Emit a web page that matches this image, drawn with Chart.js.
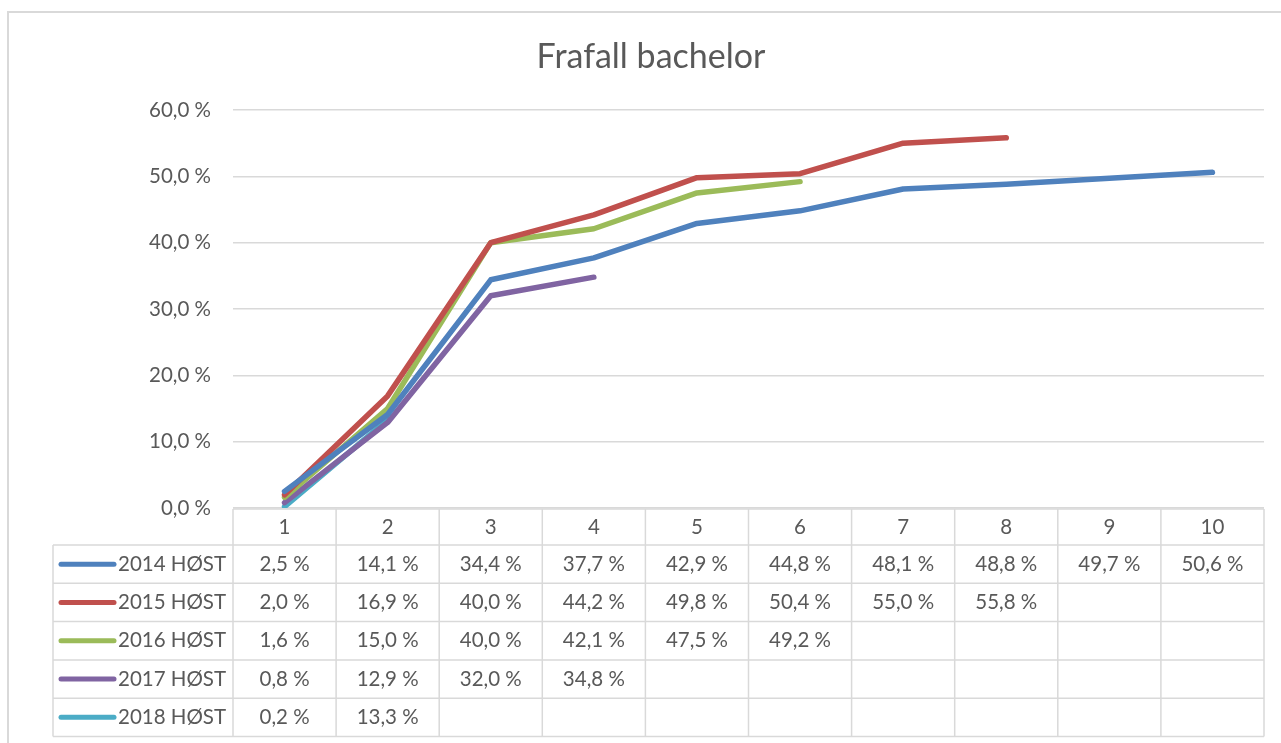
<!DOCTYPE html>
<html>
<head>
<meta charset="utf-8">
<script src="https://cdn.jsdelivr.net/npm/chart.js@4"></script>
<style>
    html, body { margin: 0; padding: 0; background: #fff; }
    #wrap { position: relative; width: 1281px; height: 743px; overflow: hidden; }
    #frame {
        position: absolute; left: 7px; top: 11px; width: 1400px; height: 800px;
        border-left: 2px solid #d9d9d9; border-top: 2px solid #d9d9d9;
    }
    canvas { position: absolute; left: 0; top: 0; }
</style>
</head>
<body>
<div id="wrap">
    <div id="frame"></div>
    <canvas id="chart" width="1281" height="743"></canvas>
</div>
<script>
// Frafall bachelor - data lest av figuren

const semesters = ['1', '2', '3', '4', '5', '6', '7', '8', '9', '10'];
const yTicks = [0, 10, 20, 30, 40, 50, 60];

const cohortNames = ['2014 HØST', '2015 HØST', '2016 HØST', '2017 HØST', '2018 HØST'];
const cohort2014 = [2.5, 14.1, 34.4, 37.7, 42.9, 44.8, 48.1, 48.8, 49.7, 50.6];
const cohort2015 = [2.0, 16.9, 40.0, 44.2, 49.8, 50.4, 55.0, 55.8];
const cohort2016 = [1.6, 15.0, 40.0, 42.1, 47.5, 49.2];
const cohort2017 = [0.8, 12.9, 32.0, 34.8];
const cohort2018 = [0.2, 13.3];
const cohortColors = ['#4f81bd', '#c0504d', '#9bbb59', '#8064a2', '#4bacc6'];

const FONT = 'Lato, "Open Sans", sans-serif';
const TEXT = '#595959';
const GRID = '#d9d9d9';

function pct(v) {
    return v.toFixed(1).replace('.', ',') + ' %';
}

/**
 * Tittel og datatabell under aksen
 */
const tablePlugin = {
    id: 'tablePlugin',
    afterDraw(chart) {
        const ctx = chart.ctx;
        const xs = chart.scales.x;
        const area = chart.chartArea;
        const colW = xs.getPixelForValue(1) - xs.getPixelForValue(0);
        const firstLeft = xs.getPixelForValue(0) - colW / 2;
        const lastRight = xs.getPixelForValue(semesters.length - 1) + colW / 2;
        const headTop = area.bottom + 1;
        const headH = 36;
        const rowH = 38.3;
        const tableLeft = 53;
        const rowsTop = headTop + headH;
        const tableBottom = rowsTop + rowH * cohortNames.length;

        ctx.save();

        // tittel
        ctx.fillStyle = TEXT;
        ctx.font = '34px ' + FONT;
        ctx.textAlign = 'center';
        ctx.textBaseline = 'middle';
        ctx.fillText('Frafall bachelor', 651, 57);

        // rutenett
        ctx.strokeStyle = GRID;
        ctx.lineWidth = 1.5;
        ctx.beginPath();
        ctx.moveTo(firstLeft, headTop);
        ctx.lineTo(lastRight, headTop);
        for (let r = 0; r <= cohortNames.length; r++) {
            const y = rowsTop + r * rowH;
            ctx.moveTo(tableLeft, y);
            ctx.lineTo(lastRight, y);
        }
        ctx.moveTo(tableLeft, rowsTop);
        ctx.lineTo(tableLeft, tableBottom);
        for (let c = 0; c <= semesters.length; c++) {
            const x = firstLeft + c * colW;
            ctx.moveTo(x, headTop);
            ctx.lineTo(x, tableBottom);
        }
        ctx.stroke();

        // kolonneoverskrifter
        ctx.fillStyle = TEXT;
        ctx.font = '20.5px ' + FONT;
        ctx.textAlign = 'center';
        semesters.forEach((s, i) => {
            ctx.fillText(s, xs.getPixelForValue(i), headTop + headH / 2);
        });

        // rader
        chart.data.datasets.forEach((ds, r) => {
            const cy = rowsTop + r * rowH + rowH / 2;
            ctx.strokeStyle = ds.borderColor;
            ctx.lineWidth = 5;
            ctx.lineCap = 'round';
            ctx.beginPath();
            ctx.moveTo(61, cy);
            ctx.lineTo(114, cy);
            ctx.stroke();

            ctx.fillStyle = TEXT;
            ctx.textAlign = 'left';
            ctx.fillText(ds.label, 118, cy);
            ctx.textAlign = 'center';
            ds.data.forEach((v, i) => {
                ctx.fillText(pct(v), xs.getPixelForValue(i), cy);
            });
        });

        ctx.restore();
    },
};

const datasets = [cohort2014, cohort2015, cohort2016, cohort2017, cohort2018].map((values, i) => ({
    label: cohortNames[i],
    data: values,
    borderColor: cohortColors[i],
    backgroundColor: cohortColors[i],
    borderWidth: 5.5,
    borderCapStyle: 'round',
    borderJoinStyle: 'round',
    pointRadius: 0,
    tension: 0,
}));

new Chart(document.getElementById('chart'), {
    type: 'line',
    data: {
        labels: semesters,
        datasets: datasets,
    },
    options: {
        responsive: false,
        animation: false,
        layout: {
            padding: { top: 110, bottom: 235, left: 0, right: 17 },
        },
        plugins: {
            legend: { display: false },
            title: { display: false },
            tooltip: { enabled: false },
        },
        scales: {
            x: {
                type: 'category',
                offset: true,
                display: false,
            },
            y: {
                min: yTicks[0],
                max: yTicks[yTicks.length - 1],
                afterFit(scale) {
                    scale.width = 233;
                },
                afterBuildTicks(scale) {
                    scale.ticks = yTicks.map((v) => ({ value: v }));
                },
                ticks: {
                    padding: 22,
                    color: TEXT,
                    font: { family: FONT, size: 20.5 },
                    callback: (v) => pct(v),
                },
                grid: {
                    color: GRID,
                    lineWidth: 1.5,
                    drawTicks: false,
                },
                border: { display: false },
            },
        },
    },
    plugins: [tablePlugin],
});
</script>
</body>
</html>
